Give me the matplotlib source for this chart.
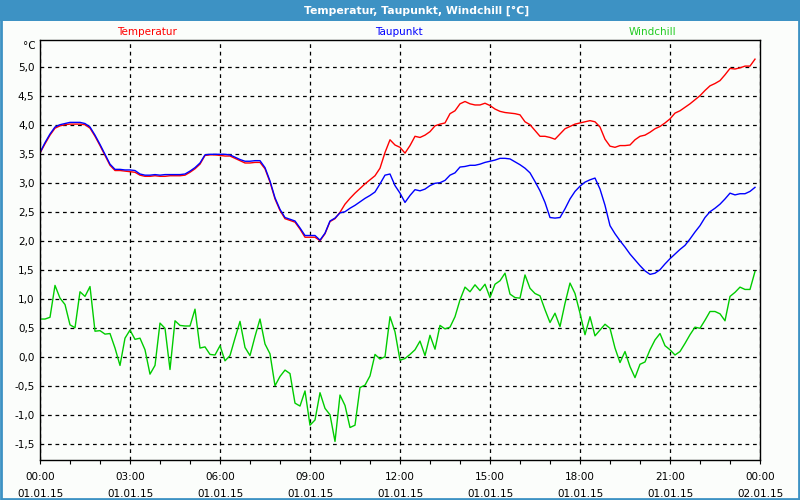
import numpy as np
import matplotlib.pyplot as plt
from matplotlib.patches import Rectangle

# 10-minute readings, 00:00 .. 23:50 on 01.01.15
temperatur = [3.52, 3.68, 3.83, 3.95, 3.99, 4.01, 4.02, 4.02, 4.02, 4.01,
              3.95, 3.81, 3.65, 3.48, 3.31, 3.22, 3.22, 3.21, 3.20, 3.19,
              3.14, 3.12, 3.12, 3.13, 3.12, 3.12, 3.13, 3.13, 3.13, 3.14,
              3.19, 3.25, 3.33, 3.48, 3.49, 3.49, 3.48, 3.47, 3.47, 3.43,
              3.39, 3.35, 3.35, 3.36, 3.36, 3.25, 3.02, 2.73, 2.53, 2.39,
              2.36, 2.33, 2.21, 2.07, 2.07, 2.07, 2.01, 2.13, 2.34, 2.39,
              2.50, 2.64, 2.74, 2.83, 2.91, 2.99, 3.06, 3.13, 3.26, 3.53,
              3.75, 3.66, 3.62, 3.52, 3.65, 3.81, 3.79, 3.83, 3.89, 3.99,
              4.02, 4.04, 4.20, 4.25, 4.37, 4.41, 4.37, 4.35, 4.35, 4.38,
              4.34, 4.28, 4.24, 4.22, 4.21, 4.20, 4.18, 4.06, 4.01, 3.91,
              3.81, 3.81, 3.79, 3.76, 3.85, 3.94, 3.98, 4.02, 4.04, 4.06,
              4.08, 4.06, 3.97, 3.76, 3.64, 3.62, 3.65, 3.65, 3.66, 3.75,
              3.81, 3.83, 3.88, 3.94, 3.98, 4.04, 4.11, 4.21, 4.25, 4.31,
              4.37, 4.44, 4.51, 4.60, 4.68, 4.72, 4.77, 4.87, 4.98, 4.97,
              4.99, 5.02, 5.02, 5.14]

taupunkt = [3.53, 3.70, 3.85, 3.97, 4.01, 4.03, 4.05, 4.05, 4.05, 4.03,
            3.97, 3.83, 3.67, 3.50, 3.33, 3.24, 3.24, 3.23, 3.23, 3.22,
            3.16, 3.14, 3.14, 3.15, 3.14, 3.15, 3.15, 3.15, 3.15, 3.16,
            3.21, 3.27, 3.35, 3.49, 3.50, 3.50, 3.50, 3.50, 3.49, 3.45,
            3.41, 3.38, 3.38, 3.39, 3.39, 3.27, 3.04, 2.75, 2.55, 2.41,
            2.38, 2.35, 2.23, 2.10, 2.10, 2.10, 2.02, 2.14, 2.35, 2.40,
            2.49, 2.51, 2.57, 2.62, 2.68, 2.74, 2.79, 2.85, 2.99, 3.14,
            3.16, 2.96, 2.83, 2.67, 2.79, 2.89, 2.87, 2.90, 2.96, 3.00,
            3.01, 3.05, 3.14, 3.18, 3.28, 3.29, 3.31, 3.31, 3.33, 3.36,
            3.38, 3.40, 3.43, 3.43, 3.42, 3.37, 3.32, 3.26, 3.18, 3.03,
            2.87, 2.67, 2.41, 2.40, 2.41, 2.56, 2.73, 2.86, 2.95, 3.02,
            3.06, 3.09, 2.90, 2.62, 2.27, 2.13, 2.01, 1.90, 1.78, 1.68,
            1.58, 1.49, 1.43, 1.45, 1.51, 1.61, 1.70, 1.78, 1.86, 1.93,
            2.04, 2.16, 2.27, 2.41, 2.51, 2.57, 2.64, 2.73, 2.83, 2.80,
            2.82, 2.82, 2.86, 2.93]

windchill = [0.66, 0.66, 0.69, 1.24, 1.02, 0.91, 0.56, 0.51, 1.13, 1.05,
             1.22, 0.45, 0.46, 0.40, 0.41, 0.16, -0.14, 0.33, 0.47, 0.31,
             0.33, 0.13, -0.29, -0.14, 0.59, 0.50, -0.21, 0.63, 0.55, 0.54,
             0.54, 0.83, 0.16, 0.18, 0.05, 0.04, 0.20, -0.06, 0.03, 0.33,
             0.62, 0.17, 0.03, 0.36, 0.66, 0.23, 0.06, -0.49, -0.33, -0.22,
             -0.28, -0.79, -0.84, -0.58, -1.17, -1.08, -0.61, -0.88, -0.99, -1.45,
             -0.65, -0.83, -1.21, -1.17, -0.52, -0.48, -0.32, 0.05, -0.03, 0.01,
             0.70, 0.44, -0.05, -0.02, 0.05, 0.13, 0.28, 0.03, 0.38, 0.14,
             0.55, 0.49, 0.52, 0.70, 0.99, 1.21, 1.13, 1.25, 1.15, 1.26,
             1.03, 1.26, 1.32, 1.45, 1.09, 1.03, 1.02, 1.42, 1.19, 1.10,
             1.06, 0.82, 0.60, 0.76, 0.53, 0.93, 1.28, 1.10, 0.76, 0.39,
             0.70, 0.37, 0.47, 0.57, 0.50, 0.16, -0.09, 0.10, -0.16, -0.35,
             -0.12, -0.08, 0.13, 0.30, 0.41, 0.20, 0.13, 0.04, 0.10, 0.24,
             0.39, 0.52, 0.50, 0.64, 0.79, 0.79, 0.75, 0.63, 1.05, 1.12,
             1.21, 1.17, 1.17, 1.48]

x_tick_labels = ["00:00\n01.01.15", "03:00\n01.01.15", "06:00\n01.01.15",
                 "09:00\n01.01.15", "12:00\n01.01.15", "15:00\n01.01.15",
                 "18:00\n01.01.15", "21:00\n01.01.15", "00:00\n02.01.15"]
y_ticks = [-1.5, -1.0, -0.5, 0.0, 0.5, 1.0, 1.5, 2.0, 2.5, 3.0, 3.5, 4.0, 4.5, 5.0]

bar_blue = "#3d92c4"
bg = "#fbfdfb"

hours = np.arange(len(temperatur)) / 6.0

fig = plt.figure(figsize=(8, 5), dpi=100, facecolor=bg)
ax = fig.add_axes([0.05, 0.08, 0.90, 0.84])
ax.set_facecolor(bg)

ax.plot(hours, windchill, color="#00cc00", lw=1.0)
ax.plot(hours, temperatur, color="#ff0000", lw=1.0)
ax.plot(hours, taupunkt, color="#0000ff", lw=1.0)

ax.set_xlim(0, 24)
ax.set_ylim(-1.77, 5.47)
ax.set_xticks(np.arange(0, 25, 3))
ax.set_xticklabels(x_tick_labels, fontsize=7.5, linespacing=1.8)
ax.set_xticks(np.arange(0, 25, 1), minor=True)
ax.set_yticks(y_ticks)
ax.set_yticklabels([f"{v:.1f}".replace(".", ",") for v in y_ticks], fontsize=7.5)
ax.tick_params(axis="x", which="both", direction="out", length=3, width=0.8, pad=6)
ax.tick_params(axis="y", length=0, pad=4)
ax.grid(True, which="major", color="black", linestyle=(0, (3, 3)), linewidth=0.9)
for s in ax.spines.values():
    s.set_linewidth(1.0)

# title bar and frame
fig.add_artist(Rectangle((0, 1 - 21 / 500), 1, 21 / 500, transform=fig.transFigure,
                         facecolor=bar_blue, edgecolor="none"))
fig.add_artist(Rectangle((0.001, 0.002), 0.998, 0.996, transform=fig.transFigure,
                         fill=False, edgecolor=bar_blue, lw=2))
fig.text(417 / 800, 1 - 10.5 / 500, "Temperatur, Taupunkt, Windchill [°C]",
         color="white", fontsize=7.8, fontweight="bold", ha="center", va="center")

fig.text(147 / 800, 1 - 32 / 500, "Temperatur", color="#ff0000", fontsize=7.5,
         ha="center", va="center")
fig.text(399 / 800, 1 - 32 / 500, "Taupunkt", color="#0000ff", fontsize=7.5,
         ha="center", va="center")
fig.text(652 / 800, 1 - 32 / 500, "Windchill", color="#22cc22", fontsize=7.5,
         ha="center", va="center")
fig.text(36 / 800, 1 - 46 / 500, "°C", color="black", fontsize=7.5,
         ha="right", va="center")

fig.savefig("out.png", dpi=100, facecolor=bg)
